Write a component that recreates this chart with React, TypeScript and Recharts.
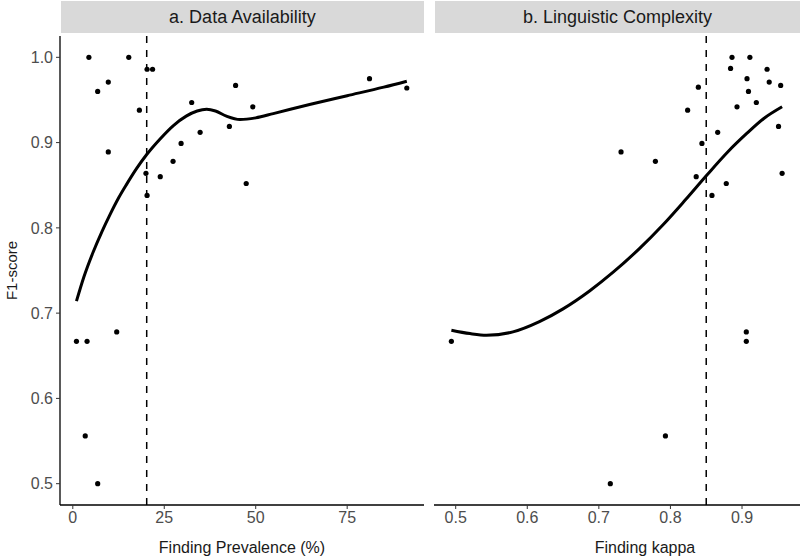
import { ComposedChart, Scatter, Line, XAxis, YAxis, ReferenceLine } from "recharts";

// a. Data Availability — finding prevalence (%) vs F1
const prevalence = [4.4, 15.3, 20.3, 21.8, 6.8, 9.7, 18.2, 9.7, 20.0, 20.3, 23.9, 27.4, 29.6, 32.5, 34.8, 42.8, 44.5, 47.4, 49.2, 81.1, 91.3, 1.0, 3.9, 12.0, 3.4, 6.8];
const prevalenceF1 = [1.0, 1.0, 0.986, 0.986, 0.96, 0.971, 0.938, 0.889, 0.864, 0.838, 0.86, 0.878, 0.899, 0.947, 0.912, 0.919, 0.967, 0.852, 0.942, 0.975, 0.964, 0.667, 0.667, 0.678, 0.556, 0.5];
const prevalenceSmoothX = [1, 3, 5.6, 8, 10.1, 12.5, 14.7, 17.5, 20.2, 23.8, 27.5, 31, 34, 36.6, 39, 42, 45.7, 50, 54.8, 65, 75, 85, 91.3];
const prevalenceSmoothY = [0.714, 0.742, 0.772, 0.796, 0.815, 0.835, 0.851, 0.87, 0.886, 0.904, 0.92, 0.931, 0.937, 0.939, 0.937, 0.931, 0.927, 0.929, 0.934, 0.945, 0.955, 0.965, 0.972];

// b. Linguistic Complexity — finding kappa vs F1
const kappa = [0.886, 0.911, 0.884, 0.935, 0.907, 0.938, 0.954, 0.839, 0.909, 0.92, 0.893, 0.824, 0.951, 0.866, 0.844, 0.779, 0.836, 0.956, 0.878, 0.858, 0.731, 0.494, 0.906, 0.906, 0.793, 0.716];
const kappaF1 = [1.0, 1.0, 0.987, 0.986, 0.975, 0.971, 0.967, 0.965, 0.96, 0.947, 0.942, 0.938, 0.919, 0.912, 0.899, 0.878, 0.86, 0.864, 0.852, 0.838, 0.889, 0.667, 0.678, 0.667, 0.556, 0.5];
const kappaSmoothX = [0.494, 0.52, 0.543, 0.58, 0.617, 0.65, 0.687, 0.72, 0.757, 0.79, 0.82, 0.851, 0.88, 0.907, 0.93, 0.956];
const kappaSmoothY = [0.68, 0.676, 0.674, 0.678, 0.69, 0.705, 0.726, 0.748, 0.776, 0.804, 0.832, 0.862, 0.889, 0.911, 0.928, 0.942];

const yTicks = [0.5, 0.6, 0.7, 0.8, 0.9, 1.0];
const prevalenceTicks = [0, 25, 50, 75];
const kappaTicks = [0.5, 0.6, 0.7, 0.8, 0.9];
const prevalenceCut = 20.2;
const kappaCut = 0.85;

const zip = (xs: number[], ys: number[]) => xs.map((x, i) => ({ x, y: ys[i] }));

const font = '"Liberation Sans", Arial, sans-serif';
const tickStyle = { fill: "#4d4d4d", fontSize: 16, fontFamily: font };

const Dot = (props: any) => <circle cx={props.cx} cy={props.cy} r={2.6} fill="#000" />;

const Strip = ({ left, width, text }: { left: number; width: number; text: string }) => (
  <div
    style={{
      position: "absolute",
      left,
      top: 1,
      width,
      height: 32,
      background: "#d9d9d9",
      color: "#1a1a1a",
      fontSize: 18,
      lineHeight: "32px",
      textAlign: "center",
      fontFamily: font,
    }}
  >
    {text}
  </div>
);

export default function App() {
  const yDomain = [0.475, 1.025];
  return (
    <div style={{ position: "absolute", left: 0, top: 0, width: 800, height: 559, background: "#fff" }}>
      <Strip left={61} width={363} text="a. Data Availability" />
      <Strip left={435} width={365} text="b. Linguistic Complexity" />

      <div style={{ position: "absolute", left: 0, top: 0 }}>
        <ComposedChart width={424} height={559} margin={{ top: 36, right: 0, bottom: 0, left: 0 }}>
          <XAxis
            dataKey="x"
            type="number"
            domain={[-3.5, 96]}
            ticks={prevalenceTicks}
            allowDataOverflow
            height={54}
            tick={tickStyle}
            tickSize={4}
            tickMargin={3}
            axisLine={{ stroke: "#000", strokeWidth: 1.3 }}
            tickLine={{ stroke: "#333" }}
            label={{ value: "Finding Prevalence (%)", position: "insideBottom", offset: 6, fill: "#1a1a1a", fontSize: 16, fontFamily: font }}
          />
          <YAxis
            type="number"
            domain={yDomain}
            ticks={yTicks}
            allowDataOverflow
            width={60}
            tick={tickStyle}
            tickSize={4}
            tickMargin={3}
            tickFormatter={(v: number) => v.toFixed(1)}
            axisLine={{ stroke: "#000", strokeWidth: 1.3 }}
            tickLine={{ stroke: "#333" }}
            label={(p: any) => {
              const vb = p.viewBox || { y: 36, height: 469 };
              const cy = vb.y + vb.height / 2;
              return (
                <text x={11} y={cy} transform={`rotate(-90, 11, ${cy})`} textAnchor="middle" dominantBaseline="central" fill="#1a1a1a" fontSize={15} fontFamily={font}>
                  F1-score
                </text>
              );
            }}
          />
          <ReferenceLine x={prevalenceCut} stroke="#000" strokeWidth={1.5} strokeDasharray="7 7" />
          <Scatter data={zip(prevalence, prevalenceF1)} dataKey="y" shape={Dot} isAnimationActive={false} />
          <Line data={zip(prevalenceSmoothX, prevalenceSmoothY)} dataKey="y" type="monotone" dot={false} stroke="#000" strokeWidth={3} isAnimationActive={false} />
        </ComposedChart>
      </div>

      <div style={{ position: "absolute", left: 434, top: 0 }}>
        <ComposedChart width={366} height={559} margin={{ top: 36, right: 0, bottom: 0, left: 0 }}>
          <XAxis
            dataKey="x"
            type="number"
            domain={[0.4697, 0.981]}
            ticks={kappaTicks}
            allowDataOverflow
            height={54}
            tick={tickStyle}
            tickSize={4}
            tickMargin={3}
            axisLine={{ stroke: "#000", strokeWidth: 1.3 }}
            tickLine={{ stroke: "#333" }}
            label={{ value: "Finding kappa", position: "insideBottom", offset: 6, dx: 28, fill: "#1a1a1a", fontSize: 16, fontFamily: font }}
          />
          <YAxis type="number" domain={yDomain} allowDataOverflow hide />
          <ReferenceLine x={kappaCut} stroke="#000" strokeWidth={1.5} strokeDasharray="7 7" />
          <Scatter data={zip(kappa, kappaF1)} dataKey="y" shape={Dot} isAnimationActive={false} />
          <Line data={zip(kappaSmoothX, kappaSmoothY)} dataKey="y" type="monotone" dot={false} stroke="#000" strokeWidth={3} isAnimationActive={false} />
        </ComposedChart>
      </div>
    </div>
  );
}
